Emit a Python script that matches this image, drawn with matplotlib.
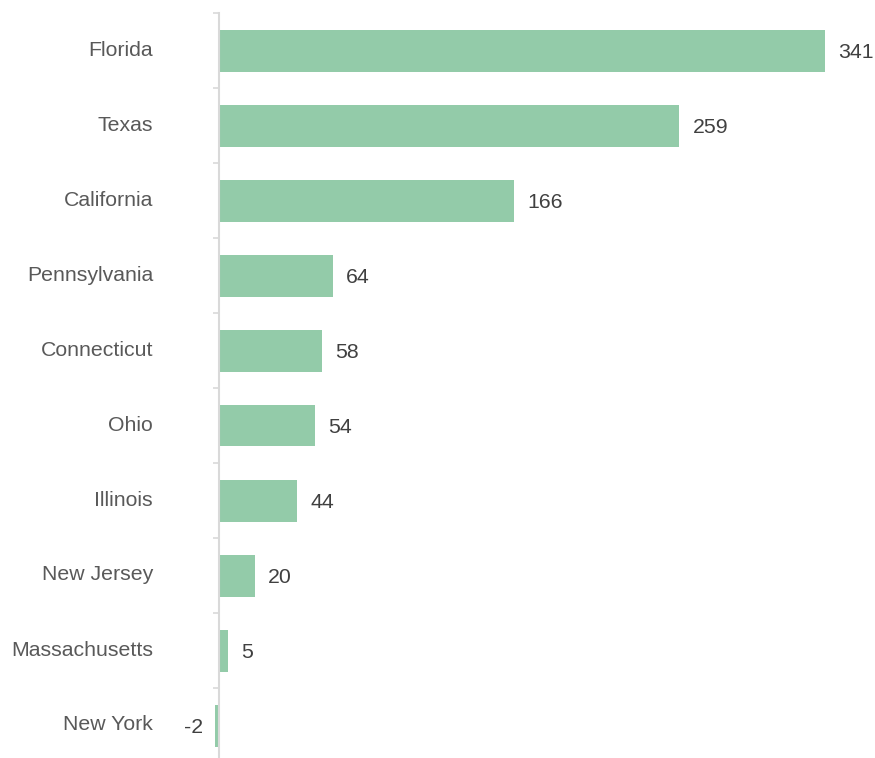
import matplotlib
matplotlib.use("Agg")
import matplotlib.pyplot as plt
import matplotlib.transforms as mtransforms
import numpy as np

states = ["Florida", "Texas", "California", "Pennsylvania", "Connecticut",
          "Ohio", "Illinois", "New Jersey", "Massachusetts", "New York"]
values = [341, 259, 166, 64, 58, 54, 44, 20, 5, -2]

plt.rcParams['font.family'] = ['Liberation Sans', 'DejaVu Sans']

W, H = 875, 758
fig = plt.figure(figsize=(W / 100, H / 100), dpi=100)
xmin, xmax = -10, 360
ppu = 1.777
left_px = 219 - (0 - xmin) * ppu
right_px = 219 + xmax * ppu
top_px, bot_px = 13, 763
ax = fig.add_axes([left_px / W, 1 - bot_px / H, (right_px - left_px) / W, (bot_px - top_px) / H])

y = np.arange(len(states))
ax.barh(y, values, height=0.56, color="#93cba9", zorder=2)
ax.set_xlim(xmin, xmax)
ax.set_ylim(len(states) - 0.5, -0.5)

for sp in ["top", "right", "bottom"]:
    ax.spines[sp].set_visible(False)
ax.spines["left"].set_position(("data", 0))
ax.spines["left"].set_color("#d9d9d9")
ax.spines["left"].set_linewidth(1.5)
ax.set_xticks([])
ax.set_yticks(y)
ax.set_yticklabels(states, fontsize=15.3, color="#595959")
ax.tick_params(axis="y", which="major", length=0, pad=47.5)
ax.set_yticks(np.arange(-0.5, len(states), 1), minor=True)
ax.tick_params(axis="y", which="minor", length=4.5, width=1.2, color="#d9d9d9")

up = mtransforms.ScaledTranslation(0, 2.5 / 100, fig.dpi_scale_trans)
for lbl in ax.get_yticklabels():
    lbl.set_transform(lbl.get_transform() + up)

down = mtransforms.ScaledTranslation(0, -2 / 100, fig.dpi_scale_trans)
for yi, v in zip(y, values):
    if v >= 0:
        ax.text(v + 7.5, yi, str(v), va="center", ha="left", fontsize=15.3,
                color="#404040", transform=ax.transData + down)
    else:
        ax.text(v - 7, yi, str(v), va="center", ha="right", fontsize=15.3,
                color="#404040", transform=ax.transData + down)

fig.savefig("out.png", dpi=100)
